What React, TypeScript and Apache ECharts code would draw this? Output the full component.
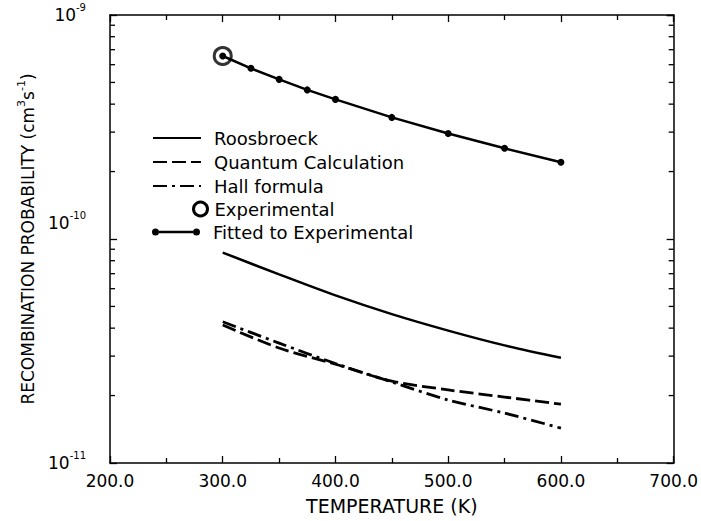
import React, { useEffect, useRef } from "react";
import * as echarts from "echarts";

// Temperature grid (K) of the theoretical curves
const theoryTemps = [300, 350, 400, 450, 500, 550, 600];
// Recombination probability (cm^3 s^-1)
const roosbroeck = [8.7e-11, 6.95e-11, 5.6e-11, 4.62e-11, 3.9e-11, 3.35e-11, 2.95e-11];
const quantumCalc = [4.13e-11, 3.26e-11, 2.76e-11, 2.32e-11, 2.12e-11, 1.97e-11, 1.83e-11];
const hallFormula = [4.27e-11, 3.43e-11, 2.78e-11, 2.3e-11, 1.91e-11, 1.67e-11, 1.43e-11];

const fittedTemps = [300, 325, 350, 375, 400, 450, 500, 550, 600];
const fittedValues = [6.56e-10, 5.78e-10, 5.16e-10, 4.63e-10, 4.2e-10, 3.49e-10, 2.96e-10, 2.54e-10, 2.2e-10];

const experimentalTemps = [300];
const experimentalValues = [6.56e-10];

// Axis ranges
const xMin = 200;
const xMax = 700;
const xStep = 100;
const yMin = 1e-11;
const yMax = 1e-9;
// Minor log ticks inside each decade
const minorMantissas = [2, 3, 4, 5, 6, 7, 8, 9];
const minorDecades = [-11, -10];

const FONT = "DejaVu Sans";
const BLACK = "#000";

const names = {
  roos: "Roosbroeck",
  quantum: "Quantum Calculation",
  hall: "Hall formula",
  exp: "Experimental",
  fit: "Fitted to Experimental",
};

const zip = (xs: number[], ys: number[]) => xs.map((x, i) => [x, ys[i]]);

const minorTickValues: number[] = [];
minorDecades.forEach((d) => minorMantissas.forEach((m) => minorTickValues.push(m * Math.pow(10, d))));

// Line with a dot at each end, for the fitted-curve legend entry
const dotLineIcon =
  "path://M3.5,0A3.5,3.5,0,1,1,3.5,7A3.5,3.5,0,1,1,3.5,0Z" +
  "M7,2.3L41,2.3L41,4.7L7,4.7Z" +
  "M44.5,0A3.5,3.5,0,1,1,44.5,7A3.5,3.5,0,1,1,44.5,0Z";

export default function App() {
  const ref = useRef<HTMLDivElement>(null);

  useEffect(() => {
    if (!ref.current) return;
    const chart = echarts.init(ref.current, undefined, { renderer: "svg" });

    const legendText = { fontFamily: FONT, fontSize: 18, color: BLACK };
    const legendRow = (name: string, top: number, extra: any = {}) => ({
      data: [name],
      left: 147,
      top,
      orient: "horizontal",
      itemWidth: 48,
      itemHeight: 14,
      selectedMode: false,
      symbolKeepAspect: true,
      itemStyle: { opacity: 0 },
      textStyle: { ...legendText, padding: [0, 0, 0, 8] },
      ...extra,
    });

    const axisLine = { show: true, lineStyle: { color: BLACK, width: 1.5 } };
    const tickStyle = { color: BLACK, width: 1.3 };

    chart.setOption({
      animation: false,
      backgroundColor: "#fff",
      grid: { left: 110, right: 26, top: 15, bottom: 58 },
      legend: [
        legendRow(names.roos, 124),
        legendRow(names.quantum, 148),
        legendRow(names.hall, 172),
        legendRow(names.exp, 195, {
          left: 187,
          itemWidth: 14,
          itemHeight: 14,
          itemStyle: { color: "#fff", borderColor: BLACK, borderWidth: 3, opacity: 1 },
          data: [{ name: names.exp, icon: "circle" }],
          textStyle: { ...legendText, padding: [0, 0, 0, 2] },
        }),
        legendRow(names.fit, 218, {
          itemStyle: { color: BLACK, opacity: 1 },
          data: [{ name: names.fit, icon: dotLineIcon }],
        }),
      ],
      xAxis: [
        {
          type: "value",
          min: xMin,
          max: xMax,
          interval: xStep,
          position: "bottom",
          name: "TEMPERATURE (K)",
          nameLocation: "middle",
          nameGap: 33,
          nameTextStyle: { fontFamily: FONT, fontSize: 19, color: BLACK },
          axisLine,
          axisTick: { inside: true, length: 7, lineStyle: tickStyle },
          minorTick: { show: true, splitNumber: 2, length: 5, lineStyle: tickStyle },
          splitLine: { show: false },
          axisLabel: {
            fontFamily: FONT,
            fontSize: 17,
            color: BLACK,
            margin: 9,
            formatter: (v: number) => v.toFixed(1),
          },
        },
        {
          type: "value",
          min: xMin,
          max: xMax,
          interval: xStep,
          position: "top",
          axisLine,
          axisTick: { inside: true, length: 7, lineStyle: tickStyle },
          minorTick: { show: true, splitNumber: 2, length: 5, lineStyle: tickStyle },
          splitLine: { show: false },
          axisLabel: { show: false },
        },
      ],
      yAxis: [
        {
          type: "log",
          logBase: 10,
          min: yMin,
          max: yMax,
          position: "left",
          name: "{n|RECOMBINATION PROBABILITY (cm}{s|3}{n|s}{s|-1}{n|)}",
          nameLocation: "middle",
          nameGap: 70,
          nameTextStyle: {
            fontFamily: FONT,
            color: BLACK,
            rich: {
              n: { fontFamily: FONT, fontSize: 17, lineHeight: 24, color: BLACK },
              s: { fontFamily: FONT, fontSize: 11, lineHeight: 11, verticalAlign: "top", color: BLACK },
            },
          },
          axisLine,
          axisTick: { inside: true, length: 7, lineStyle: tickStyle },
          splitLine: { show: false },
          axisLabel: {
            margin: 24,
            formatter: (v: number) => {
              const e = Math.round(Math.log10(v));
              const s = `{b|10}{s|${e}}`;
              return e === -10 ? s + "\n{g| }" : s;
            },
            rich: {
              b: { fontFamily: FONT, fontSize: 17, lineHeight: 26, color: BLACK },
              s: { fontFamily: FONT, fontSize: 10, lineHeight: 10, verticalAlign: "top", color: BLACK },
              g: { fontFamily: FONT, fontSize: 10, lineHeight: 32 },
            },
          },
        },
        {
          type: "log",
          logBase: 10,
          min: yMin,
          max: yMax,
          position: "right",
          axisLine,
          axisTick: { inside: true, length: 7, lineStyle: tickStyle },
          splitLine: { show: false },
          axisLabel: { show: false },
        },
      ],
      series: [
        {
          // minor decade ticks on the left and right frame edges
          type: "custom",
          silent: true,
          clip: false,
          z: 10,
          dimensions: ["x", "y"],
          data: minorTickValues.map((v) => [xMin, v]),
          encode: { x: 0, y: 1 },
          renderItem: (params: any, api: any) => {
            const v = api.value(1);
            const l = api.coord([xMin, v]);
            const r = api.coord([xMax, v]);
            const st = { stroke: BLACK, lineWidth: 1.3, fill: "none" };
            return {
              type: "group",
              children: [
                { type: "line", shape: { x1: l[0], y1: l[1], x2: l[0] + 5, y2: l[1] }, style: st },
                { type: "line", shape: { x1: r[0] - 5, y1: r[1], x2: r[0], y2: r[1] }, style: st },
              ],
            };
          },
        },
        {
          name: names.roos,
          type: "line",
          data: zip(theoryTemps, roosbroeck),
          symbol: "none",
          smooth: 0.3,
          lineStyle: { color: BLACK, width: 2.5 },
          itemStyle: { color: BLACK },
        },
        {
          name: names.quantum,
          type: "line",
          data: zip(theoryTemps, quantumCalc),
          symbol: "none",
          smooth: 0.3,
          lineStyle: { color: BLACK, width: 2.8, type: [14, 5] },
          itemStyle: { color: BLACK },
        },
        {
          name: names.hall,
          type: "line",
          data: zip(theoryTemps, hallFormula),
          symbol: "none",
          smooth: 0.3,
          lineStyle: { color: BLACK, width: 2.8, type: [14, 5, 3, 5] },
          itemStyle: { color: BLACK },
        },
        {
          name: names.exp,
          type: "scatter",
          data: zip(experimentalTemps, experimentalValues),
          symbol: "circle",
          symbolSize: 17,
          itemStyle: { color: "transparent", borderColor: BLACK, borderWidth: 3 },
          z: 3,
        },
        {
          name: names.fit,
          type: "line",
          data: zip(fittedTemps, fittedValues),
          symbol: "circle",
          symbolSize: 7,
          showAllSymbol: true,
          lineStyle: { color: BLACK, width: 2.5 },
          itemStyle: { color: BLACK },
          z: 4,
        },
      ],
    });

    return () => chart.dispose();
  }, []);

  return (
    <div
      ref={ref}
      style={{ position: "absolute", left: 0, top: 0, width: 701, height: 521, background: "#fff" }}
    />
  );
}
